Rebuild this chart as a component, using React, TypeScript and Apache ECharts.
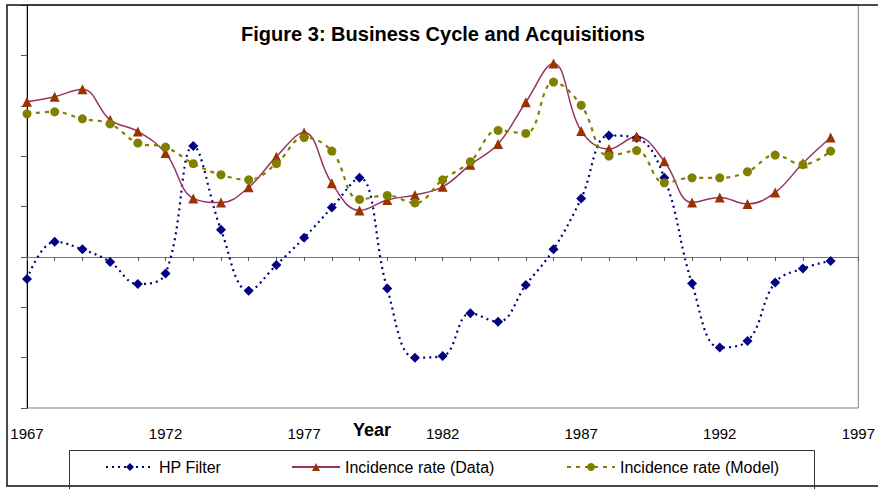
import React, { useEffect, useRef } from "react";
import * as echarts from "echarts";

const years = [1967, 1968, 1969, 1970, 1971, 1972, 1973, 1974, 1975, 1976, 1977, 1978, 1979, 1980, 1981, 1982, 1983, 1984, 1985, 1986, 1987, 1988, 1989, 1990, 1991, 1992, 1993, 1994, 1995, 1996];
const hpFilter = [-0.44, 0.3, 0.15, -0.1, -0.54, -0.33, 2.2, 0.54, -0.67, -0.16, 0.38, 0.98, 1.57, -0.63, -2.0, -1.97, -1.12, -1.29, -0.56, 0.15, 1.16, 2.41, 2.36, 1.57, -0.53, -1.8, -1.67, -0.51, -0.23, -0.08];
const dataRate = [3.08, 3.18, 3.33, 2.72, 2.49, 2.06, 1.16, 1.08, 1.38, 1.99, 2.47, 1.46, 0.92, 1.13, 1.23, 1.39, 1.83, 2.24, 3.07, 3.84, 2.5, 2.14, 2.39, 1.9, 1.08, 1.18, 1.05, 1.28, 1.86, 2.37];
const modelRate = [2.84, 2.88, 2.74, 2.64, 2.26, 2.18, 1.85, 1.63, 1.53, 1.85, 2.37, 2.1, 1.14, 1.22, 1.07, 1.53, 1.89, 2.51, 2.45, 3.47, 3.01, 2.0, 2.11, 1.47, 1.57, 1.57, 1.69, 2.02, 1.83, 2.1];
const seriesNames = ["HP Filter", "Incidence rate (Data)", "Incidence rate (Model)"];
const titleText = "Figure 3: Business Cycle and Acquisitions";
const xAxisTitle = "Year";

const FONT = "'Liberation Sans', Arial, sans-serif";

export default function App() {
  const ref = useRef<HTMLDivElement>(null);
  useEffect(() => {
    if (!ref.current) return;
    const chart = echarts.init(ref.current, undefined, { renderer: "svg" });
    const pairs = (vals: number[]) => years.map((y, i) => [y, vals[i]]);
    const legendCommon = {
      top: 459,
      padding: 0,
      itemWidth: 48,
      itemHeight: 10,
      textStyle: { fontFamily: FONT, fontSize: 16, color: "#000" },
      selectedMode: false,
    };
    chart.setOption({
      animation: false,
      backgroundColor: "#fff",
      textStyle: { fontFamily: FONT },
      grid: {
        left: 27,
        top: 5,
        width: 832,
        height: 403,
        show: true,
        borderColor: "#808080",
        borderWidth: 1,
        containLabel: false,
      },
      legend: [
        { ...legendCommon, left: 105, data: [seriesNames[0]] },
        { ...legendCommon, left: 291, data: [seriesNames[1]] },
        { ...legendCommon, left: 566, data: [seriesNames[2]] },
      ],
      xAxis: [
        {
          type: "value",
          min: 1967,
          max: 1997,
          interval: 1,
          axisLine: { show: true, onZero: true, lineStyle: { color: "#777", width: 1 } },
          axisTick: { show: true, length: 4, lineStyle: { color: "#555" } },
          axisLabel: { show: false },
          splitLine: { show: false },
        },
        {
          type: "value",
          min: 1967,
          max: 1997,
          interval: 5,
          position: "bottom",
          axisLine: { show: false, onZero: false },
          axisTick: { show: false },
          axisLabel: {
            show: true,
            fontSize: 15,
            color: "#000",
            margin: 18,
            fontFamily: FONT,
            formatter: (v: number) => String(v),
          },
          splitLine: { show: false },
        },
      ],
      yAxis: {
        type: "value",
        min: -3,
        max: 5,
        interval: 1,
        axisLine: { show: true, lineStyle: { color: "#000", width: 1 } },
        axisTick: { show: true, length: 6, inside: false, lineStyle: { color: "#555" } },
        axisLabel: { show: false },
        splitLine: { show: false },
      },
      graphic: [
        {
          type: "rect",
          shape: { x: 7, y: 5, width: 900, height: 481 },
          style: { fill: "none", stroke: "#111", lineWidth: 1.5 },
          z: 100,
        },
        {
          type: "rect",
          shape: { x: 69.5, y: 450.5, width: 745, height: 40 },
          style: { fill: "none", stroke: "#333", lineWidth: 1 },
          z: 100,
        },
        {
          type: "text",
          x: 443,
          y: 34,
          style: {
            text: titleText,
            font: `bold 20px ${FONT}`,
            fill: "#000",
            textAlign: "center",
            textVerticalAlign: "middle",
          },
          z: 100,
        },
        {
          type: "text",
          x: 372,
          y: 430,
          style: {
            text: xAxisTitle,
            font: `bold 18px ${FONT}`,
            fill: "#000",
            textAlign: "center",
            textVerticalAlign: "middle",
          },
          z: 100,
        },
      ],
      series: [
        {
          name: seriesNames[0],
          type: "line",
          data: pairs(hpFilter),
          smooth: 0.4,
          symbol: "diamond",
          symbolSize: 10,
          color: "#000080",
          itemStyle: { color: "#000080" },
          lineStyle: { color: "#000080", width: 2.2, type: [2, 4] },
        },
        {
          name: seriesNames[1],
          type: "line",
          data: pairs(dataRate),
          smooth: 0.4,
          symbol: "triangle",
          symbolSize: 10,
          color: "#993300",
          itemStyle: { color: "#993300" },
          lineStyle: { color: "#993366", width: 1.5, type: "solid" },
        },
        {
          name: seriesNames[2],
          type: "line",
          data: pairs(modelRate),
          smooth: 0.4,
          symbol: "circle",
          symbolSize: 9,
          color: "#808000",
          itemStyle: { color: "#808000" },
          lineStyle: { color: "#808000", width: 2.2, type: [4, 5] },
        },
      ],
    });
    return () => chart.dispose();
  }, []);
  return (
    <div
      ref={ref}
      style={{ position: "fixed", left: 0, top: 0, width: 878, height: 489, background: "#fff" }}
    />
  );
}
